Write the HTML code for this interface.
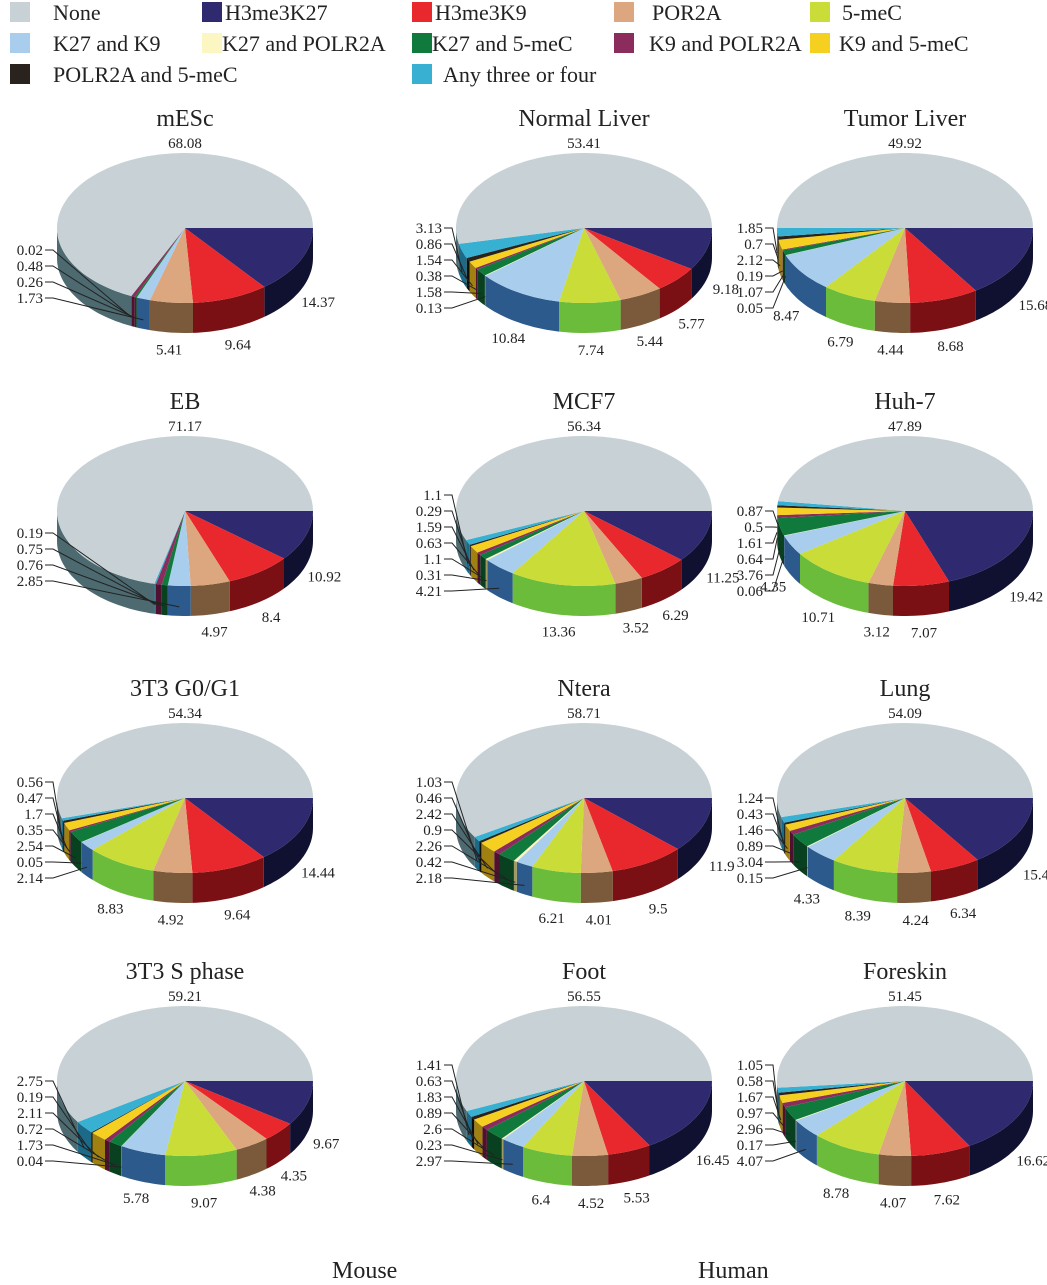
<!DOCTYPE html>
<html><head><meta charset="utf-8"><style>
body{margin:0;background:#fff;width:1047px;height:1280px;overflow:hidden;font-family:"Liberation Serif",serif;}
svg text{font-family:"Liberation Serif",serif;fill:#222;}
</style></head><body>
<svg id="chart" width="1047" height="1280" xmlns="http://www.w3.org/2000/svg"></svg>
<script>
const categories=["None","H3me3K27","H3me3K9","POR2A","5-meC","K27 and K9","K27 and POLR2A","K27 and 5-meC","K9 and POLR2A","K9 and 5-meC","POLR2A and 5-meC","Any three or four"];
const colors=["#c8d2d6","#2f2a70","#e8282c","#dca67e","#c9dc38","#a9cdec","#fbf6c2","#0f7a3c","#8c2c5c","#f6d020","#2a221c","#38b0d2"];
const sides=["#4c6a70","#101030","#7a1014","#7a5a3a","#6cbc3c","#2c5a8c","#a09a60","#084020","#501030","#a08010","#100c08","#1c6a88"];
const pieTitles=["mESc","Normal Liver","Tumor Liver","EB","MCF7","Huh-7","3T3 G0/G1","Ntera","Lung","3T3 S phase","Foot","Foreskin"];
const vMESc=[68.08,14.37,9.64,5.41,0,1.73,0,0.26,0.48,0,0,0.02];
const vNormal=[53.41,9.18,5.77,5.44,7.74,10.84,0.13,1.58,0.38,1.54,0.86,3.13];
const vTumor=[49.92,15.68,8.68,4.44,6.79,8.47,0.05,1.07,0.19,2.12,0.7,1.85];
const vEB=[71.17,10.92,8.40,4.97,0,2.85,0,0.76,0.75,0,0,0.19];
const vMCF7=[56.34,11.25,6.29,3.52,13.36,4.21,0.31,1.1,0.63,1.59,0.29,1.1];
const vHuh=[47.89,19.42,7.07,3.12,10.71,4.35,0.06,3.76,0.64,1.61,0.50,0.87];
const vG0=[54.34,14.44,9.64,4.92,8.83,2.14,0.05,2.54,0.35,1.7,0.47,0.56];
const vNtera=[58.71,11.9,9.5,4.01,6.21,2.18,0.42,2.26,0.9,2.42,0.46,1.03];
const vLung=[54.09,15.4,6.34,4.24,8.39,4.33,0.15,3.04,0.89,1.46,0.43,1.24];
const vS=[59.21,9.67,4.35,4.38,9.07,5.78,0.04,1.73,0.72,2.11,0.19,2.75];
const vFoot=[56.55,16.45,5.53,4.52,6.4,2.97,0.23,2.6,0.89,1.83,0.63,1.41];
const vForeskin=[51.45,16.62,7.62,4.07,8.78,4.07,0.17,2.96,0.97,1.67,0.58,1.05];
const pieValues=[vMESc,vNormal,vTumor,vEB,vMCF7,vHuh,vG0,vNtera,vLung,vS,vFoot,vForeskin];

const NS="http://www.w3.org/2000/svg";
const svg=document.getElementById('chart');
function mk(tag,attrs,parent){const e=document.createElementNS(NS,tag);for(const k in attrs)e.setAttribute(k,attrs[k]);(parent||svg).appendChild(e);return e;}

// legend
const legX=[8,200,410,612,808];
const legTX=[53,225,435,652,842];
categories.forEach((c,i)=>{
  let r=Math.floor(i/5),col=i%5;
  if(i===11)col=2;
  const g=mk('g',{});
  
  
  const y=12+r*31;
  mk('rect',{x:legX[col]+2,y:y-10,width:20,height:20,fill:colors[i]},g);
  const tx=mk('text',{x:legTX[col]-(col>0&&r>0&&i!==11?3:0)+(i===11?8:0),y:y+8,'font-size':22},g);
  tx.textContent=c;
});

const colCX=[185,584,905];
const rowCY=[228,511,798,1081];
const RX=128,RY=75,DEPTH=30,TH0=0;
function pt(cx,cy,th,dy){const a=th*Math.PI/180;return [cx+RX*Math.cos(a),cy-RY*Math.sin(a)+(dy||0)];}
function arcPts(cx,cy,a,b,dy){const n=Math.max(2,Math.ceil(Math.abs(b-a)/2));const p=[];for(let k=0;k<=n;k++){p.push(pt(cx,cy,a+(b-a)*k/n,dy));}return p;}
function poly(p){return p.map(q=>q[0].toFixed(1)+','+q[1].toFixed(1)).join(' ');}

pieValues.forEach((vals,pi)=>{
  const cx=colCX[pi%3],cy=rowCY[Math.floor(pi/3)];
  const g=mk('g',{});
  
  
  const t=mk('text',{x:cx,y:cy-102,'text-anchor':'middle','font-size':24},g);t.textContent=pieTitles[pi];
  const order=[1,2,3,4,5,6,7,8,9,10,11,0];
  const ranges=[];let th=TH0;
  order.forEach(i=>{const span=vals[i]*3.6;ranges[i]=[th-span,th];th-=span;});
  order.forEach(i=>{
    const [a,b]=ranges[i];const lo=Math.max(a,-180),hi=Math.min(b,0);
    if(hi>lo){const top=arcPts(cx,cy,hi,lo,0);const bot=arcPts(cx,cy,lo,hi,DEPTH);
      const s=mk('polygon',{points:poly(top.concat(bot)),fill:sides[i]},g);
      
      }
  });
  order.forEach(i=>{
    const [a,b]=ranges[i];if(b-a<=0)return;
    const p=[[cx,cy]].concat(arcPts(cx,cy,b,a,0));
    const s=mk('polygon',{points:poly(p),fill:colors[i]},g);
    
    
  });
  const tn=mk('text',{x:cx,y:cy-80,'text-anchor':'middle','font-size':15},g);tn.textContent=vals[0].toFixed(2);
  const smalls=[];
  order.forEach(i=>{
    if(i===0||vals[i]<=0)return;
    const [a,b]=ranges[i];const m=(a+b)/2;
    const rim=(i<=4)||(i===5&&vals[i]>=4.3);
    if(rim){
      const a2=m*Math.PI/180;
      const x=cx+(RX+20)*Math.cos(a2),y=cy-(RY+10)*Math.sin(a2)+DEPTH+12;
      const tt=mk('text',{x:x,y:y,'text-anchor':'middle','font-size':15},g);tt.textContent=String(vals[i]);
    } else smalls.push([i,m]);
  });
  smalls.forEach((s,k)=>{
    const [i,m]=s;
    const ly=cy+RY-5-k*16+(smalls.length>5?10:0);
    const lx=cx-RX-8;
    const rp=pt(cx,cy,m,DEPTH*0.7);
    const tt=mk('text',{x:lx-6,y:ly+5,'text-anchor':'end','font-size':15},g);tt.textContent=String(vals[i]);
    mk('polyline',{points:`${lx-4},${ly} ${lx+4},${ly} ${rp[0].toFixed(1)},${rp[1].toFixed(1)}`,fill:'none',stroke:'#222','stroke-width':1},g);
  });
});
const m1=mk('text',{x:332,y:1278,'font-size':24});m1.textContent='Mouse';

const m2=mk('text',{x:698,y:1278,'font-size':24});m2.textContent='Human';

</script>
</body></html>
